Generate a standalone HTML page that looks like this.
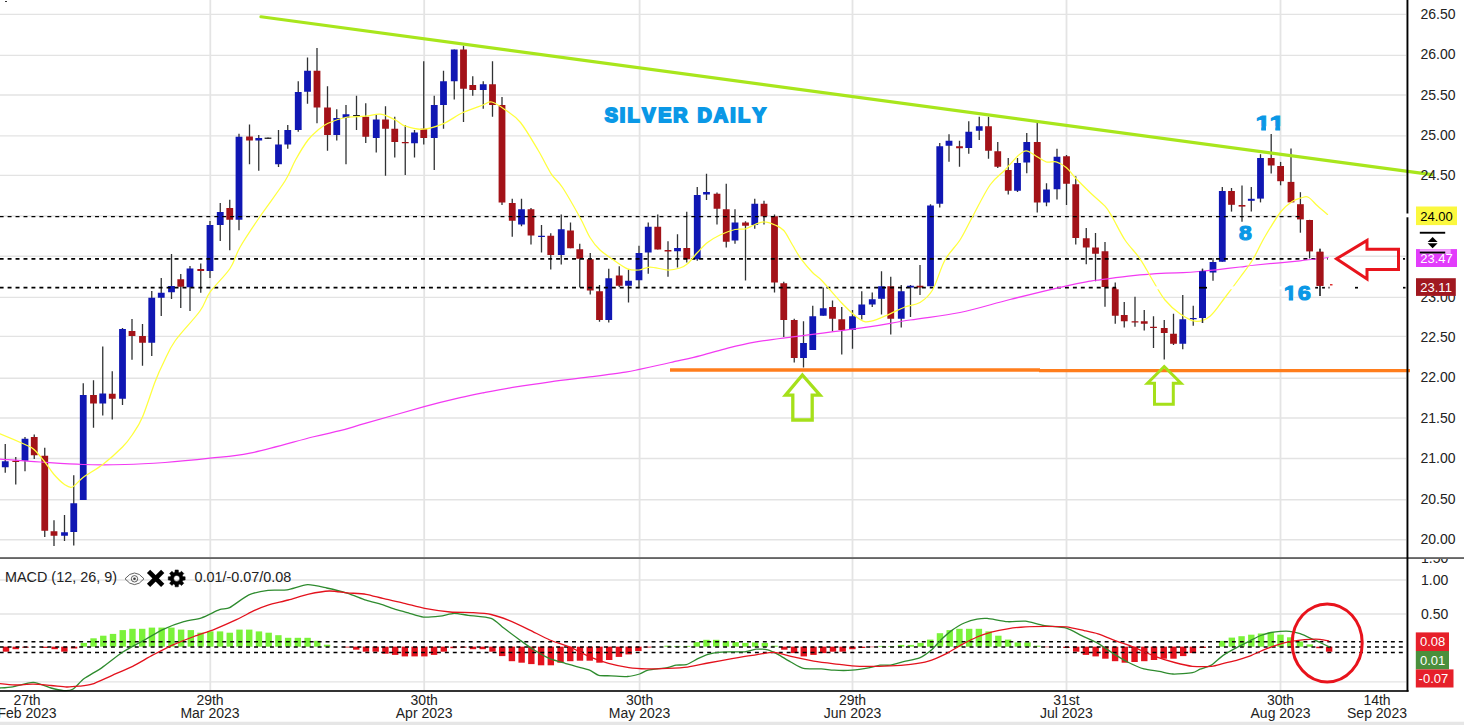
<!DOCTYPE html><html><head><meta charset="utf-8"><title>Silver Daily</title><style>html,body{margin:0;padding:0;background:#fff;overflow:hidden}svg{display:block}text{font-family:"Liberation Sans", Arial, sans-serif}</style></head><body>
<svg width="1464" height="725" viewBox="0 0 1464 725">
<rect x="0" y="0" width="1464" height="725" fill="#fff"/>
<g stroke="#e3e3e3" stroke-width="1.35" fill="none">
<line x1="0" y1="14.4" x2="1406" y2="14.4"/>
<line x1="0" y1="55.4" x2="1406" y2="55.4"/>
<line x1="0" y1="95.0" x2="1406" y2="95.0"/>
<line x1="0" y1="135.9" x2="1406" y2="135.9"/>
<line x1="0" y1="175.3" x2="1406" y2="175.3"/>
<line x1="0" y1="216.0" x2="1302" y2="216.0"/>
<line x1="0" y1="256.3" x2="1406" y2="256.3"/>
<line x1="0" y1="297.3" x2="1406" y2="297.3"/>
<line x1="0" y1="336.4" x2="1406" y2="336.4"/>
<line x1="0" y1="378.2" x2="1406" y2="378.2"/>
<line x1="0" y1="418.0" x2="1406" y2="418.0"/>
<line x1="0" y1="458.5" x2="1406" y2="458.5"/>
<line x1="0" y1="499.7" x2="1406" y2="499.7"/>
<line x1="0" y1="539.7" x2="1406" y2="539.7"/>
<line x1="0" y1="580.0" x2="1406" y2="580.0"/>
<line x1="0" y1="614.0" x2="1406" y2="614.0"/>
<line x1="0" y1="681.8" x2="1406" y2="681.8"/>
</g><g stroke="#e4e4e4" stroke-width="1.8" fill="none">
<line x1="210.3" y1="0" x2="210.3" y2="557"/>
<line x1="210.3" y1="559" x2="210.3" y2="690"/>
<line x1="424.2" y1="0" x2="424.2" y2="557"/>
<line x1="424.2" y1="559" x2="424.2" y2="690"/>
<line x1="639.6" y1="0" x2="639.6" y2="557"/>
<line x1="639.6" y1="559" x2="639.6" y2="690"/>
<line x1="852.5" y1="0" x2="852.5" y2="557"/>
<line x1="852.5" y1="559" x2="852.5" y2="690"/>
<line x1="1066.5" y1="0" x2="1066.5" y2="557"/>
<line x1="1066.5" y1="559" x2="1066.5" y2="690"/>
<line x1="1280.5" y1="0" x2="1280.5" y2="557"/>
<line x1="1280.5" y1="559" x2="1280.5" y2="690"/>
</g>
<g>
<line x1="5.25" y1="444" x2="5.25" y2="472.75" stroke="#303234" stroke-width="1.3"/>
<rect x="1.85" y="461.25" width="6.8" height="6.00" fill="#1017b3"/>
<line x1="15.75" y1="457" x2="15.75" y2="484.5" stroke="#303234" stroke-width="1.3"/>
<rect x="12.35" y="460.75" width="6.8" height="1.25" fill="#a31218"/>
<line x1="25" y1="437" x2="25" y2="471.25" stroke="#303234" stroke-width="1.3"/>
<rect x="21.60" y="438.75" width="6.8" height="22.00" fill="#1017b3"/>
<line x1="34.25" y1="434.5" x2="34.25" y2="459" stroke="#303234" stroke-width="1.3"/>
<rect x="30.85" y="437" width="6.8" height="18.25" fill="#a31218"/>
<line x1="44.75" y1="447.75" x2="44.75" y2="537" stroke="#303234" stroke-width="1.3"/>
<rect x="41.35" y="455.75" width="6.8" height="75.00" fill="#a31218"/>
<line x1="54" y1="520.25" x2="54" y2="546" stroke="#303234" stroke-width="1.3"/>
<rect x="50.60" y="531.25" width="6.8" height="4.50" fill="#a31218"/>
<line x1="64.5" y1="515" x2="64.5" y2="541" stroke="#303234" stroke-width="1.3"/>
<rect x="61.10" y="532.25" width="6.8" height="3.50" fill="#1017b3"/>
<line x1="73.75" y1="475.25" x2="73.75" y2="545.5" stroke="#303234" stroke-width="1.3"/>
<rect x="70.35" y="503.25" width="6.8" height="28.75" fill="#1017b3"/>
<line x1="83.25" y1="383.25" x2="83.25" y2="500" stroke="#303234" stroke-width="1.3"/>
<rect x="79.85" y="395" width="6.8" height="105.00" fill="#1017b3"/>
<line x1="93.5" y1="380.25" x2="93.5" y2="427.75" stroke="#303234" stroke-width="1.3"/>
<rect x="90.10" y="395" width="6.8" height="8.50" fill="#a31218"/>
<line x1="102.75" y1="346.5" x2="102.75" y2="415.5" stroke="#303234" stroke-width="1.3"/>
<rect x="99.35" y="393.5" width="6.8" height="10.00" fill="#1017b3"/>
<line x1="112.25" y1="371.25" x2="112.25" y2="419.5" stroke="#303234" stroke-width="1.3"/>
<rect x="108.85" y="393.75" width="6.8" height="5.00" fill="#a31218"/>
<line x1="122.5" y1="328" x2="122.5" y2="405" stroke="#303234" stroke-width="1.3"/>
<rect x="119.10" y="329" width="6.8" height="69.75" fill="#1017b3"/>
<line x1="132" y1="319" x2="132" y2="359.75" stroke="#303234" stroke-width="1.3"/>
<rect x="128.60" y="331" width="6.8" height="5.00" fill="#a31218"/>
<line x1="142.5" y1="324" x2="142.5" y2="365.75" stroke="#303234" stroke-width="1.3"/>
<rect x="139.10" y="336" width="6.8" height="6.75" fill="#a31218"/>
<line x1="151.75" y1="291" x2="151.75" y2="356" stroke="#303234" stroke-width="1.3"/>
<rect x="148.35" y="297.75" width="6.8" height="45.00" fill="#1017b3"/>
<line x1="161.25" y1="278" x2="161.25" y2="316" stroke="#303234" stroke-width="1.3"/>
<rect x="157.85" y="292.75" width="6.8" height="5.00" fill="#1017b3"/>
<line x1="171.5" y1="254" x2="171.5" y2="299" stroke="#303234" stroke-width="1.3"/>
<rect x="168.10" y="286" width="6.8" height="6.25" fill="#1017b3"/>
<line x1="180.75" y1="274" x2="180.75" y2="308" stroke="#303234" stroke-width="1.3"/>
<rect x="177.35" y="279.25" width="6.8" height="7.50" fill="#a31218"/>
<line x1="190" y1="266" x2="190" y2="311" stroke="#303234" stroke-width="1.3"/>
<rect x="186.60" y="268.5" width="6.8" height="18.75" fill="#1017b3"/>
<line x1="200.75" y1="263.5" x2="200.75" y2="292.75" stroke="#303234" stroke-width="1.3"/>
<rect x="197.35" y="269" width="6.8" height="2.00" fill="#a31218"/>
<line x1="210" y1="221" x2="210" y2="278" stroke="#303234" stroke-width="1.3"/>
<rect x="206.60" y="225" width="6.8" height="46.00" fill="#1017b3"/>
<line x1="220.25" y1="203" x2="220.25" y2="241" stroke="#303234" stroke-width="1.3"/>
<rect x="216.85" y="212" width="6.8" height="13.00" fill="#1017b3"/>
<line x1="229.75" y1="199.75" x2="229.75" y2="250.25" stroke="#303234" stroke-width="1.3"/>
<rect x="226.35" y="208" width="6.8" height="11.75" fill="#a31218"/>
<line x1="239" y1="133.75" x2="239" y2="230.25" stroke="#303234" stroke-width="1.3"/>
<rect x="235.60" y="136.75" width="6.8" height="83.00" fill="#1017b3"/>
<line x1="249.5" y1="124.5" x2="249.5" y2="164.25" stroke="#303234" stroke-width="1.3"/>
<rect x="246.10" y="136.5" width="6.8" height="4.00" fill="#a31218"/>
<line x1="258.75" y1="135" x2="258.75" y2="170.75" stroke="#303234" stroke-width="1.3"/>
<rect x="255.35" y="138" width="6.8" height="2.50" fill="#1017b3"/>
<line x1="268" y1="137.6" x2="268" y2="138.9" stroke="#303234" stroke-width="1.3"/>
<rect x="264.60" y="137.6" width="6.8" height="1.30" fill="#222"/>
<line x1="278.5" y1="130" x2="278.5" y2="167" stroke="#303234" stroke-width="1.3"/>
<rect x="275.10" y="144.5" width="6.8" height="19.75" fill="#1017b3"/>
<line x1="287.75" y1="125" x2="287.75" y2="148.75" stroke="#303234" stroke-width="1.3"/>
<rect x="284.35" y="130" width="6.8" height="14.50" fill="#1017b3"/>
<line x1="298.25" y1="81.25" x2="298.25" y2="131.75" stroke="#303234" stroke-width="1.3"/>
<rect x="294.85" y="92" width="6.8" height="38.00" fill="#1017b3"/>
<line x1="307.5" y1="57.5" x2="307.5" y2="103.75" stroke="#303234" stroke-width="1.3"/>
<rect x="304.10" y="70.75" width="6.8" height="21.00" fill="#1017b3"/>
<line x1="317" y1="48" x2="317" y2="123.25" stroke="#303234" stroke-width="1.3"/>
<rect x="313.60" y="70.75" width="6.8" height="36.75" fill="#a31218"/>
<line x1="327.5" y1="86.25" x2="327.5" y2="150.75" stroke="#303234" stroke-width="1.3"/>
<rect x="324.10" y="107.5" width="6.8" height="27.50" fill="#a31218"/>
<line x1="336.75" y1="109.25" x2="336.75" y2="140.5" stroke="#303234" stroke-width="1.3"/>
<rect x="333.35" y="118" width="6.8" height="17.00" fill="#1017b3"/>
<line x1="346" y1="105" x2="346" y2="164.25" stroke="#303234" stroke-width="1.3"/>
<rect x="342.60" y="114.25" width="6.8" height="3.75" fill="#1017b3"/>
<line x1="356.5" y1="95.75" x2="356.5" y2="130" stroke="#303234" stroke-width="1.3"/>
<rect x="353.10" y="115" width="6.8" height="1.20" fill="#222"/>
<line x1="365.75" y1="103.25" x2="365.75" y2="143" stroke="#303234" stroke-width="1.3"/>
<rect x="362.35" y="116.75" width="6.8" height="20.00" fill="#a31218"/>
<line x1="376.25" y1="115" x2="376.25" y2="152.5" stroke="#303234" stroke-width="1.3"/>
<rect x="372.85" y="119.5" width="6.8" height="18.50" fill="#1017b3"/>
<line x1="385.5" y1="106.25" x2="385.5" y2="175.75" stroke="#303234" stroke-width="1.3"/>
<rect x="382.10" y="119.5" width="6.8" height="9.25" fill="#a31218"/>
<line x1="394.75" y1="116.75" x2="394.75" y2="157.5" stroke="#303234" stroke-width="1.3"/>
<rect x="391.35" y="128.75" width="6.8" height="13.25" fill="#a31218"/>
<line x1="405.25" y1="125" x2="405.25" y2="175" stroke="#303234" stroke-width="1.3"/>
<rect x="401.85" y="142" width="6.8" height="1.25" fill="#a31218"/>
<line x1="414.5" y1="130" x2="414.5" y2="157.5" stroke="#303234" stroke-width="1.3"/>
<rect x="411.10" y="132.5" width="6.8" height="10.75" fill="#1017b3"/>
<line x1="423.75" y1="61.25" x2="423.75" y2="144.5" stroke="#303234" stroke-width="1.3"/>
<rect x="420.35" y="128.75" width="6.8" height="9.25" fill="#a31218"/>
<line x1="434.25" y1="95.75" x2="434.25" y2="170" stroke="#303234" stroke-width="1.3"/>
<rect x="430.85" y="105" width="6.8" height="33.00" fill="#1017b3"/>
<line x1="443.5" y1="70.75" x2="443.5" y2="128.75" stroke="#303234" stroke-width="1.3"/>
<rect x="440.10" y="81.25" width="6.8" height="23.75" fill="#1017b3"/>
<line x1="454.25" y1="49.5" x2="454.25" y2="99.5" stroke="#303234" stroke-width="1.3"/>
<rect x="450.85" y="49.5" width="6.8" height="31.75" fill="#1017b3"/>
<line x1="463.5" y1="45.75" x2="463.5" y2="122" stroke="#303234" stroke-width="1.3"/>
<rect x="460.10" y="49.5" width="6.8" height="39.25" fill="#a31218"/>
<line x1="472.75" y1="76.25" x2="472.75" y2="95.75" stroke="#303234" stroke-width="1.3"/>
<rect x="469.35" y="85" width="6.8" height="5.00" fill="#a31218"/>
<line x1="483.25" y1="81.25" x2="483.25" y2="108.75" stroke="#303234" stroke-width="1.3"/>
<rect x="479.85" y="84.25" width="6.8" height="5.75" fill="#1017b3"/>
<line x1="492.5" y1="61.25" x2="492.5" y2="116.75" stroke="#303234" stroke-width="1.3"/>
<rect x="489.10" y="84.25" width="6.8" height="20.75" fill="#a31218"/>
<line x1="502" y1="97" x2="502" y2="205" stroke="#303234" stroke-width="1.3"/>
<rect x="498.60" y="105" width="6.8" height="97.50" fill="#a31218"/>
<line x1="512.25" y1="198.75" x2="512.25" y2="236.75" stroke="#303234" stroke-width="1.3"/>
<rect x="508.85" y="203" width="6.8" height="17.75" fill="#a31218"/>
<line x1="521.5" y1="198.75" x2="521.5" y2="226.25" stroke="#303234" stroke-width="1.3"/>
<rect x="518.10" y="209.25" width="6.8" height="15.25" fill="#1017b3"/>
<line x1="531" y1="208" x2="531" y2="244.5" stroke="#303234" stroke-width="1.3"/>
<rect x="527.60" y="209.25" width="6.8" height="26.25" fill="#a31218"/>
<line x1="541.5" y1="225" x2="541.5" y2="252.5" stroke="#303234" stroke-width="1.3"/>
<rect x="538.10" y="235.75" width="6.8" height="1.25" fill="#1017b3"/>
<line x1="550.75" y1="233.25" x2="550.75" y2="269.5" stroke="#303234" stroke-width="1.3"/>
<rect x="547.35" y="235.75" width="6.8" height="19.25" fill="#a31218"/>
<line x1="561.25" y1="214.5" x2="561.25" y2="264.5" stroke="#303234" stroke-width="1.3"/>
<rect x="557.85" y="229.25" width="6.8" height="25.75" fill="#1017b3"/>
<line x1="570.5" y1="222.5" x2="570.5" y2="248.25" stroke="#303234" stroke-width="1.3"/>
<rect x="567.10" y="230.5" width="6.8" height="17.75" fill="#a31218"/>
<line x1="579.75" y1="243.75" x2="579.75" y2="287.5" stroke="#303234" stroke-width="1.3"/>
<rect x="576.35" y="249.25" width="6.8" height="9.50" fill="#a31218"/>
<line x1="590.25" y1="253" x2="590.25" y2="294.5" stroke="#303234" stroke-width="1.3"/>
<rect x="586.85" y="259.25" width="6.8" height="31.25" fill="#a31218"/>
<line x1="599.5" y1="285" x2="599.5" y2="321.75" stroke="#303234" stroke-width="1.3"/>
<rect x="596.10" y="291.25" width="6.8" height="28.75" fill="#a31218"/>
<line x1="608.75" y1="268.75" x2="608.75" y2="322.5" stroke="#303234" stroke-width="1.3"/>
<rect x="605.35" y="278.25" width="6.8" height="41.75" fill="#1017b3"/>
<line x1="619.25" y1="266.25" x2="619.25" y2="287" stroke="#303234" stroke-width="1.3"/>
<rect x="615.85" y="275.5" width="6.8" height="10.25" fill="#a31218"/>
<line x1="628.5" y1="269.5" x2="628.5" y2="302.5" stroke="#303234" stroke-width="1.3"/>
<rect x="625.10" y="280.75" width="6.8" height="5.00" fill="#1017b3"/>
<line x1="639" y1="245.75" x2="639" y2="288.25" stroke="#303234" stroke-width="1.3"/>
<rect x="635.60" y="253" width="6.8" height="27.25" fill="#1017b3"/>
<line x1="648.25" y1="222.5" x2="648.25" y2="273.75" stroke="#303234" stroke-width="1.3"/>
<rect x="644.85" y="226.75" width="6.8" height="25.75" fill="#1017b3"/>
<line x1="657.75" y1="214.5" x2="657.75" y2="249.5" stroke="#303234" stroke-width="1.3"/>
<rect x="654.35" y="226.75" width="6.8" height="22.75" fill="#a31218"/>
<line x1="668" y1="241.25" x2="668" y2="276.75" stroke="#303234" stroke-width="1.3"/>
<rect x="664.60" y="250" width="6.8" height="1.50" fill="#a31218"/>
<line x1="677.5" y1="234.25" x2="677.5" y2="267.5" stroke="#303234" stroke-width="1.3"/>
<rect x="674.10" y="248" width="6.8" height="3.25" fill="#1017b3"/>
<line x1="686.75" y1="211.75" x2="686.75" y2="262.5" stroke="#303234" stroke-width="1.3"/>
<rect x="683.35" y="248" width="6.8" height="11.25" fill="#a31218"/>
<line x1="697.25" y1="187" x2="697.25" y2="260.75" stroke="#303234" stroke-width="1.3"/>
<rect x="693.85" y="195" width="6.8" height="64.25" fill="#1017b3"/>
<line x1="706.5" y1="173.75" x2="706.5" y2="200" stroke="#303234" stroke-width="1.3"/>
<rect x="703.10" y="192" width="6.8" height="2.50" fill="#1017b3"/>
<line x1="717" y1="192.5" x2="717" y2="224.5" stroke="#303234" stroke-width="1.3"/>
<rect x="713.60" y="193.75" width="6.8" height="15.00" fill="#a31218"/>
<line x1="726.25" y1="183.75" x2="726.25" y2="247.5" stroke="#303234" stroke-width="1.3"/>
<rect x="722.85" y="209.25" width="6.8" height="32.50" fill="#a31218"/>
<line x1="735" y1="209.25" x2="735" y2="243.75" stroke="#303234" stroke-width="1.3"/>
<rect x="731.60" y="222.5" width="6.8" height="18.00" fill="#1017b3"/>
<line x1="745.5" y1="221.25" x2="745.5" y2="280.5" stroke="#303234" stroke-width="1.3"/>
<rect x="742.10" y="222.5" width="6.8" height="3.25" fill="#a31218"/>
<line x1="754.75" y1="198.75" x2="754.75" y2="228.75" stroke="#303234" stroke-width="1.3"/>
<rect x="751.35" y="203.75" width="6.8" height="21.25" fill="#1017b3"/>
<line x1="764" y1="200.75" x2="764" y2="224.5" stroke="#303234" stroke-width="1.3"/>
<rect x="760.60" y="203.75" width="6.8" height="12.50" fill="#a31218"/>
<line x1="774.5" y1="214.5" x2="774.5" y2="292.5" stroke="#303234" stroke-width="1.3"/>
<rect x="771.10" y="216.25" width="6.8" height="66.25" fill="#a31218"/>
<line x1="783.75" y1="281.75" x2="783.75" y2="337" stroke="#303234" stroke-width="1.3"/>
<rect x="780.35" y="283.25" width="6.8" height="36.75" fill="#a31218"/>
<line x1="794.25" y1="318.75" x2="794.25" y2="362.5" stroke="#303234" stroke-width="1.3"/>
<rect x="790.85" y="320" width="6.8" height="38.00" fill="#a31218"/>
<line x1="803.5" y1="321.25" x2="803.5" y2="367.5" stroke="#303234" stroke-width="1.3"/>
<rect x="800.10" y="343" width="6.8" height="15.00" fill="#1017b3"/>
<line x1="812.75" y1="305.75" x2="812.75" y2="350" stroke="#303234" stroke-width="1.3"/>
<rect x="809.35" y="316.25" width="6.8" height="33.75" fill="#1017b3"/>
<line x1="823.25" y1="287.5" x2="823.25" y2="315.75" stroke="#303234" stroke-width="1.3"/>
<rect x="819.85" y="308.25" width="6.8" height="7.50" fill="#1017b3"/>
<line x1="832.5" y1="300.5" x2="832.5" y2="331.25" stroke="#303234" stroke-width="1.3"/>
<rect x="829.10" y="307" width="6.8" height="11.75" fill="#a31218"/>
<line x1="841.75" y1="307" x2="841.75" y2="354.5" stroke="#303234" stroke-width="1.3"/>
<rect x="838.35" y="319.25" width="6.8" height="10.75" fill="#a31218"/>
<line x1="852.5" y1="310" x2="852.5" y2="348.75" stroke="#303234" stroke-width="1.3"/>
<rect x="849.10" y="316.25" width="6.8" height="13.75" fill="#1017b3"/>
<line x1="861.75" y1="291.25" x2="861.75" y2="319.5" stroke="#303234" stroke-width="1.3"/>
<rect x="858.35" y="304.5" width="6.8" height="10.50" fill="#1017b3"/>
<line x1="872.25" y1="292.5" x2="872.25" y2="307" stroke="#303234" stroke-width="1.3"/>
<rect x="868.85" y="299.25" width="6.8" height="5.25" fill="#1017b3"/>
<line x1="881.5" y1="271.25" x2="881.5" y2="314.5" stroke="#303234" stroke-width="1.3"/>
<rect x="878.10" y="286.25" width="6.8" height="12.50" fill="#1017b3"/>
<line x1="890.75" y1="276.75" x2="890.75" y2="334.5" stroke="#303234" stroke-width="1.3"/>
<rect x="887.35" y="286.25" width="6.8" height="32.50" fill="#a31218"/>
<line x1="901.25" y1="285" x2="901.25" y2="327.5" stroke="#303234" stroke-width="1.3"/>
<rect x="897.85" y="291.25" width="6.8" height="27.50" fill="#1017b3"/>
<line x1="910.5" y1="285" x2="910.5" y2="317" stroke="#303234" stroke-width="1.3"/>
<rect x="907.10" y="285.75" width="6.8" height="1.75" fill="#1017b3"/>
<line x1="920" y1="265" x2="920" y2="295" stroke="#303234" stroke-width="1.3"/>
<rect x="916.60" y="285.75" width="6.8" height="1.75" fill="#a31218"/>
<line x1="930.5" y1="204.25" x2="930.5" y2="286.25" stroke="#303234" stroke-width="1.3"/>
<rect x="927.10" y="205.5" width="6.8" height="80.75" fill="#1017b3"/>
<line x1="939.75" y1="143" x2="939.75" y2="207.5" stroke="#303234" stroke-width="1.3"/>
<rect x="936.35" y="146.25" width="6.8" height="57.50" fill="#1017b3"/>
<line x1="949" y1="134.25" x2="949" y2="161.75" stroke="#303234" stroke-width="1.3"/>
<rect x="945.60" y="140.75" width="6.8" height="5.00" fill="#1017b3"/>
<line x1="959.5" y1="140.75" x2="959.5" y2="166.75" stroke="#303234" stroke-width="1.3"/>
<rect x="956.10" y="146.25" width="6.8" height="2.00" fill="#a31218"/>
<line x1="968.75" y1="121.25" x2="968.75" y2="153.75" stroke="#303234" stroke-width="1.3"/>
<rect x="965.35" y="131.75" width="6.8" height="16.25" fill="#1017b3"/>
<line x1="979.25" y1="116.75" x2="979.25" y2="140" stroke="#303234" stroke-width="1.3"/>
<rect x="975.85" y="126.25" width="6.8" height="4.50" fill="#1017b3"/>
<line x1="988.5" y1="116.75" x2="988.5" y2="158.75" stroke="#303234" stroke-width="1.3"/>
<rect x="985.10" y="126.25" width="6.8" height="24.50" fill="#a31218"/>
<line x1="997.75" y1="142" x2="997.75" y2="168" stroke="#303234" stroke-width="1.3"/>
<rect x="994.35" y="151.25" width="6.8" height="15.50" fill="#a31218"/>
<line x1="1008.25" y1="158" x2="1008.25" y2="194.5" stroke="#303234" stroke-width="1.3"/>
<rect x="1004.85" y="170" width="6.8" height="20.75" fill="#a31218"/>
<line x1="1017.5" y1="158" x2="1017.5" y2="192" stroke="#303234" stroke-width="1.3"/>
<rect x="1014.10" y="163" width="6.8" height="27.75" fill="#1017b3"/>
<line x1="1026.75" y1="133" x2="1026.75" y2="173.25" stroke="#303234" stroke-width="1.3"/>
<rect x="1023.35" y="142" width="6.8" height="20.50" fill="#1017b3"/>
<line x1="1037.25" y1="122.5" x2="1037.25" y2="212.5" stroke="#303234" stroke-width="1.3"/>
<rect x="1033.85" y="142" width="6.8" height="60.50" fill="#a31218"/>
<line x1="1046.5" y1="183.25" x2="1046.5" y2="206.25" stroke="#303234" stroke-width="1.3"/>
<rect x="1043.10" y="189.5" width="6.8" height="13.00" fill="#1017b3"/>
<line x1="1057" y1="148.75" x2="1057" y2="199.5" stroke="#303234" stroke-width="1.3"/>
<rect x="1053.60" y="156.75" width="6.8" height="32.50" fill="#1017b3"/>
<line x1="1066.5" y1="155" x2="1066.5" y2="205" stroke="#303234" stroke-width="1.3"/>
<rect x="1063.10" y="156.25" width="6.8" height="27.50" fill="#a31218"/>
<line x1="1075.75" y1="176.25" x2="1075.75" y2="244.5" stroke="#303234" stroke-width="1.3"/>
<rect x="1072.35" y="184.25" width="6.8" height="53.75" fill="#a31218"/>
<line x1="1086.25" y1="228" x2="1086.25" y2="264.25" stroke="#303234" stroke-width="1.3"/>
<rect x="1082.85" y="238.25" width="6.8" height="9.25" fill="#a31218"/>
<line x1="1095.5" y1="233" x2="1095.5" y2="281.25" stroke="#303234" stroke-width="1.3"/>
<rect x="1092.10" y="247.5" width="6.8" height="6.25" fill="#a31218"/>
<line x1="1105" y1="242" x2="1105" y2="306.75" stroke="#303234" stroke-width="1.3"/>
<rect x="1101.60" y="251.25" width="6.8" height="35.75" fill="#a31218"/>
<line x1="1115.25" y1="282.5" x2="1115.25" y2="323.75" stroke="#303234" stroke-width="1.3"/>
<rect x="1111.85" y="287.5" width="6.8" height="28.25" fill="#a31218"/>
<line x1="1124.25" y1="302" x2="1124.25" y2="327.5" stroke="#303234" stroke-width="1.3"/>
<rect x="1120.85" y="315" width="6.8" height="6.25" fill="#a31218"/>
<line x1="1135" y1="296.75" x2="1135" y2="326.75" stroke="#303234" stroke-width="1.3"/>
<rect x="1131.60" y="321.25" width="6.8" height="1.25" fill="#a31218"/>
<line x1="1144.25" y1="310" x2="1144.25" y2="330.5" stroke="#303234" stroke-width="1.3"/>
<rect x="1140.85" y="321.25" width="6.8" height="2.50" fill="#a31218"/>
<line x1="1153.5" y1="316.25" x2="1153.5" y2="348" stroke="#303234" stroke-width="1.3"/>
<rect x="1150.10" y="326.75" width="6.8" height="1.25" fill="#a31218"/>
<line x1="1164.25" y1="320" x2="1164.25" y2="359.5" stroke="#303234" stroke-width="1.3"/>
<rect x="1160.85" y="328" width="6.8" height="5.00" fill="#a31218"/>
<line x1="1173.5" y1="313.75" x2="1173.5" y2="345" stroke="#303234" stroke-width="1.3"/>
<rect x="1170.10" y="333.75" width="6.8" height="10.00" fill="#a31218"/>
<line x1="1182.75" y1="295" x2="1182.75" y2="349.25" stroke="#303234" stroke-width="1.3"/>
<rect x="1179.35" y="319.25" width="6.8" height="24.50" fill="#1017b3"/>
<line x1="1193.25" y1="305.75" x2="1193.25" y2="325.75" stroke="#303234" stroke-width="1.3"/>
<rect x="1189.85" y="318" width="6.8" height="1.25" fill="#1017b3"/>
<line x1="1202.5" y1="268.75" x2="1202.5" y2="323" stroke="#303234" stroke-width="1.3"/>
<rect x="1199.10" y="271.25" width="6.8" height="46.75" fill="#1017b3"/>
<line x1="1213" y1="258" x2="1213" y2="280.75" stroke="#303234" stroke-width="1.3"/>
<rect x="1209.60" y="262" width="6.8" height="10.50" fill="#1017b3"/>
<line x1="1222.3" y1="187" x2="1222.3" y2="261.75" stroke="#303234" stroke-width="1.3"/>
<rect x="1218.90" y="191" width="6.8" height="70.75" fill="#1017b3"/>
<line x1="1231.5" y1="188" x2="1231.5" y2="211.6" stroke="#303234" stroke-width="1.3"/>
<rect x="1228.10" y="191" width="6.8" height="13.80" fill="#a31218"/>
<line x1="1242" y1="185.6" x2="1242" y2="221.7" stroke="#303234" stroke-width="1.3"/>
<rect x="1238.60" y="205" width="6.8" height="1.60" fill="#a31218"/>
<line x1="1251.3" y1="187" x2="1251.3" y2="211.6" stroke="#303234" stroke-width="1.3"/>
<rect x="1247.90" y="198.8" width="6.8" height="2.00" fill="#1017b3"/>
<line x1="1260.5" y1="154.2" x2="1260.5" y2="202.4" stroke="#303234" stroke-width="1.3"/>
<rect x="1257.10" y="158" width="6.8" height="40.60" fill="#1017b3"/>
<line x1="1271.2" y1="134.1" x2="1271.2" y2="173.5" stroke="#303234" stroke-width="1.3"/>
<rect x="1267.80" y="158" width="6.8" height="7.50" fill="#a31218"/>
<line x1="1280.6" y1="161.9" x2="1280.6" y2="185.3" stroke="#303234" stroke-width="1.3"/>
<rect x="1277.20" y="166" width="6.8" height="15.20" fill="#a31218"/>
<line x1="1291" y1="148.5" x2="1291" y2="202.4" stroke="#303234" stroke-width="1.3"/>
<rect x="1287.60" y="181.9" width="6.8" height="20.50" fill="#a31218"/>
<line x1="1300.4" y1="192.2" x2="1300.4" y2="232.7" stroke="#303234" stroke-width="1.3"/>
<rect x="1297.00" y="204.2" width="6.8" height="15.20" fill="#a31218"/>
<line x1="1309.6" y1="219.8" x2="1309.6" y2="258.5" stroke="#303234" stroke-width="1.3"/>
<rect x="1306.20" y="220" width="6.8" height="31.40" fill="#a31218"/>
<line x1="1320" y1="248.8" x2="1320" y2="296" stroke="#303234" stroke-width="1.3"/>
<rect x="1316.60" y="251.8" width="6.8" height="34.00" fill="#a31218"/>
</g>
<g stroke="#000" stroke-width="1.7" stroke-dasharray="3.95 4" stroke-dashoffset="0.35" fill="none">
<line x1="0" y1="216.6" x2="1302" y2="216.6" stroke-width="1.15"/>
<line x1="0" y1="258.9" x2="1328" y2="258.9"/>
<line x1="0" y1="287.7" x2="1116" y2="287.7"/>
</g>
<path d="M0.0 459.0 C6.7 459.5 26.2 461.1 40.0 462.0 C53.8 462.9 68.8 464.1 83.0 464.5 C97.2 464.9 111.3 464.8 125.0 464.5 C138.7 464.2 150.8 463.5 165.0 462.5 C179.2 461.5 195.8 459.8 210.0 458.2 C224.2 456.7 232.9 456.8 250.0 453.2 C267.1 449.7 297.5 440.8 312.5 437.0 C327.5 433.2 331.1 433.0 340.0 430.7 C348.9 428.4 352.0 427.2 366.0 423.2 C380.0 419.2 408.5 411.0 424.2 406.7 C439.9 402.4 450.2 400.0 460.2 397.7 C470.2 395.4 475.3 394.4 484.3 392.6 C493.3 390.9 503.3 389.0 514.3 387.2 C525.3 385.4 537.4 383.6 550.4 381.8 C563.4 380.0 580.0 378.2 592.5 376.6 C605.0 375.0 617.5 373.4 625.5 372.1 C633.5 370.9 633.1 370.7 640.6 369.1 C648.1 367.5 660.6 364.8 670.6 362.5 C680.6 360.2 691.2 358.0 700.7 355.6 C710.2 353.2 718.7 350.4 727.7 348.1 C736.7 345.9 746.1 343.7 754.8 342.1 C763.5 340.5 763.7 340.6 780.0 338.5 C796.3 336.4 830.8 332.3 852.5 329.2 C874.2 326.2 892.1 322.8 910.0 320.0 C927.9 317.2 943.3 315.9 960.0 312.5 C976.7 309.1 992.2 304.0 1010.0 299.5 C1027.8 295.0 1053.4 288.8 1066.8 285.8 C1080.1 282.7 1084.5 282.2 1090.0 281.2 C1095.5 280.3 1092.8 280.7 1100.0 279.8 C1107.2 278.9 1122.0 276.8 1133.0 275.7 C1144.0 274.6 1157.7 273.7 1166.0 273.2 C1174.3 272.7 1177.5 273.0 1183.0 272.7 C1188.5 272.4 1193.5 272.0 1199.0 271.5 C1204.5 271.0 1209.2 270.6 1216.0 269.9 C1222.8 269.1 1233.3 267.8 1240.0 267.0 C1246.7 266.2 1246.0 266.0 1256.0 265.0 C1266.0 264.0 1288.0 262.0 1300.0 260.8 C1312.0 259.5 1323.3 258.0 1328.0 257.5" fill="none" stroke="#f23af2" stroke-width="1.25" stroke-linejoin="round" stroke-linecap="round"/>
<path d="M0.0 433.8 C4.2 435.5 19.3 441.9 25.0 444.5 C30.7 447.1 30.7 446.6 34.0 449.5 C37.3 452.4 41.4 457.8 44.8 462.0 C48.1 466.2 50.7 470.8 54.0 474.5 C57.3 478.2 61.4 482.4 64.5 484.5 C67.6 486.6 69.4 488.2 72.5 487.0 C75.6 485.8 78.0 481.2 83.0 477.5 C88.0 473.8 96.2 469.6 102.8 464.5 C109.3 459.4 117.5 452.0 122.5 447.0 C127.5 442.0 129.2 439.5 132.5 434.5 C135.8 429.5 138.8 425.8 142.5 417.0 C146.2 408.2 151.5 391.2 155.0 382.0 C158.5 372.8 160.4 368.8 163.8 362.0 C167.1 355.2 169.0 349.5 175.0 341.0 C181.0 332.5 194.2 319.1 200.0 311.0 C205.8 302.9 205.0 299.3 210.0 292.2 C215.0 285.2 225.0 276.0 230.0 268.5 C235.0 261.0 235.0 255.9 240.0 247.2 C245.0 238.6 252.5 227.5 260.0 216.5 C267.5 205.5 279.1 190.4 285.0 181.0 C290.9 171.6 291.7 166.8 295.5 160.0 C299.3 153.2 304.2 145.0 308.0 140.0 C311.8 135.0 314.7 132.8 318.0 130.0 C321.3 127.2 323.4 125.3 328.0 123.2 C332.6 121.2 339.2 118.7 345.5 117.5 C351.8 116.3 359.7 116.8 365.5 116.2 C371.3 115.7 375.5 113.6 380.5 114.2 C385.5 114.9 391.3 118.0 395.5 120.0 C399.7 122.0 400.9 124.7 405.5 126.2 C410.1 127.8 416.8 129.7 423.0 129.2 C429.2 128.8 436.3 126.5 443.0 123.8 C449.7 121.0 456.3 115.6 463.0 112.5 C469.7 109.4 478.2 106.8 483.0 105.0 C487.8 103.2 488.0 101.2 491.8 102.0 C495.5 102.8 500.7 106.6 505.5 110.0 C510.3 113.4 515.1 115.8 520.5 122.5 C525.9 129.2 532.9 141.5 538.0 150.0 C543.1 158.5 547.2 167.5 551.2 173.8 C555.3 180.0 557.7 180.2 562.5 187.5 C567.3 194.8 575.4 209.2 580.0 217.5 C584.6 225.8 586.7 232.1 590.0 237.5 C593.3 242.9 596.2 246.4 600.0 250.0 C603.8 253.6 607.9 256.1 612.5 259.2 C617.1 262.4 623.1 267.0 627.5 268.8 C631.9 270.5 635.2 270.3 639.0 270.0 C642.8 269.7 645.2 267.0 650.0 267.0 C654.8 267.0 662.5 269.8 667.5 270.0 C672.5 270.2 676.7 269.0 680.0 268.0 C683.3 267.0 684.6 266.3 687.5 263.8 C690.4 261.2 694.2 256.0 697.5 252.5 C700.8 249.0 703.8 245.4 707.5 242.5 C711.2 239.6 715.4 237.2 720.0 235.0 C724.6 232.8 730.8 230.5 735.0 229.5 C739.2 228.5 742.2 229.6 745.5 228.8 C748.8 227.9 751.9 225.7 755.0 224.5 C758.1 223.3 760.7 221.7 764.0 221.8 C767.3 221.8 771.7 223.5 775.0 225.0 C778.3 226.5 780.8 227.2 783.8 230.5 C786.7 233.8 789.6 240.2 792.5 245.0 C795.4 249.8 797.9 254.7 801.2 259.2 C804.6 263.8 809.0 268.8 812.5 272.5 C816.0 276.2 817.5 276.0 822.5 281.2 C827.5 286.5 836.2 297.4 842.5 303.8 C848.8 310.1 855.2 316.6 860.0 319.5 C864.8 322.4 866.2 322.2 871.2 321.2 C876.2 320.3 884.4 316.1 890.0 313.8 C895.6 311.4 900.0 308.9 905.0 307.0 C910.0 305.1 915.4 305.3 920.0 302.5 C924.6 299.7 928.3 297.1 932.5 290.0 C936.7 282.9 940.4 268.3 945.0 260.0 C949.6 251.7 955.4 247.2 960.0 240.0 C964.6 232.8 967.5 225.9 972.5 216.8 C977.5 207.6 984.6 192.8 990.0 185.0 C995.4 177.2 1000.4 174.8 1005.0 170.0 C1009.6 165.2 1014.0 159.5 1017.5 156.2 C1021.0 153.0 1023.1 150.8 1026.2 150.8 C1029.4 150.8 1032.9 154.4 1036.2 156.2 C1039.6 158.1 1042.9 160.8 1046.2 161.8 C1049.6 162.7 1052.9 160.8 1056.2 161.8 C1059.6 162.7 1062.9 164.7 1066.2 167.5 C1069.6 170.3 1072.3 174.6 1076.2 178.8 C1080.2 182.9 1085.2 187.9 1090.0 192.5 C1094.8 197.1 1101.2 202.1 1105.0 206.2 C1108.8 210.4 1109.2 211.9 1112.5 217.5 C1115.8 223.1 1120.4 233.1 1125.0 240.0 C1129.6 246.9 1135.4 252.1 1140.0 258.8 C1144.6 265.4 1148.3 273.1 1152.5 280.0 C1156.7 286.9 1160.4 294.4 1165.0 300.0 C1169.6 305.6 1175.0 310.2 1180.0 313.8 C1185.0 317.3 1190.0 320.8 1195.0 321.2 C1200.0 321.7 1205.0 320.2 1210.0 316.2 C1215.0 312.3 1220.0 304.0 1225.0 297.5 C1230.0 291.0 1235.4 283.8 1240.0 277.5 C1244.6 271.2 1248.3 266.8 1252.5 260.0 C1256.7 253.2 1260.2 244.6 1265.0 236.5 C1269.8 228.4 1276.4 217.4 1281.0 211.5 C1285.6 205.6 1289.0 203.6 1292.4 201.3 C1295.8 199.0 1298.8 198.5 1301.5 197.8 C1304.2 197.1 1305.6 195.9 1308.3 197.2 C1311.0 198.5 1314.2 202.9 1317.4 205.8 C1320.6 208.7 1325.8 213.0 1327.5 214.4" fill="none" stroke="#ffff3c" stroke-width="1.25" stroke-linejoin="round" stroke-linecap="round"/>
<rect x="1116.5" y="286.4" width="82.3" height="2.9" fill="#fff"/>
<rect x="1207.2" y="286.4" width="107.8" height="2.9" fill="#fff"/>
<rect x="1325" y="286.4" width="77.8" height="2.9" fill="#fff"/>
<line x1="1202.5" y1="268.75" x2="1202.5" y2="323" stroke="#303234" stroke-width="1.3"/>
<rect x="1199.10" y="271.25" width="6.8" height="46.75" fill="#1017b3"/>
<line x1="1320" y1="248.8" x2="1320" y2="296" stroke="#303234" stroke-width="1.3"/>
<rect x="1316.60" y="251.8" width="6.8" height="34.00" fill="#a31218"/>
<g stroke="#000" stroke-width="1.7" fill="none">
<line x1="1199" y1="287.7" x2="1207" y2="287.7"/>
<line x1="1315.2" y1="287.7" x2="1318" y2="287.7"/>
<line x1="1322.1" y1="287.7" x2="1324.9" y2="287.7"/>
<line x1="1328.5" y1="287.7" x2="1329.5" y2="287.7"/>
<line x1="1355" y1="287.7" x2="1358" y2="287.7"/>
<line x1="1403" y1="287.7" x2="1405.5" y2="287.7"/>
<line x1="1403" y1="258.9" x2="1405" y2="258.9"/>
</g>
<rect x="1330" y="284" width="2.5" height="1.5" fill="#d33"/>
<line x1="261" y1="16.75" x2="1432" y2="174.6" stroke="#a8e61c" stroke-width="3.2" stroke-linecap="round"/>
<line x1="670" y1="370" x2="1040" y2="370" stroke="#ff7d1c" stroke-width="3.4"/>
<line x1="1039" y1="370.6" x2="1410" y2="370.6" stroke="#ff7d1c" stroke-width="3.2"/>
<polygon points="802.4,375 820,395.2 812.2,395.2 812.2,420 792.8,420 792.8,395.2 785.5,395.2" fill="none" stroke="#a5e01a" stroke-width="3.3" stroke-linejoin="miter"/>
<polygon points="1164.2,366.5 1181,383.2 1173.3,383.2 1173.3,404.2 1154.5,404.2 1154.5,383.2 1147.5,383.2" fill="none" stroke="#a5e01a" stroke-width="3" stroke-linejoin="miter"/>
<polygon points="1336.5,258.8 1367,240.5 1367,249.3 1398.5,249.3 1398.5,269.6 1367,269.6 1367,279 " fill="none" stroke="#e8141c" stroke-width="3" stroke-linejoin="miter"/>
<text transform="matrix(1.0357,0,0,1.0151,0,121.51)" x="583.87 598.46 605.96 620.22 635.60 650.13 665.83 673.53 689.15 705.00 712.65 726.71" y="0" font-size="19.0" font-weight="bold" fill="#0a98e6" stroke="#0a98e6" stroke-width="1.9" stroke-linejoin="miter">SILVER DAILY</text>
<clipPath id="c11"><path d="M-5 -30H40V-3.5H19.02V2H15.35V-3.5H8.13V2H4.46V-3.5H-5Z"/></clipPath>
<text transform="matrix(1.295,0,0,1,1255.47,129.67)" x="0 10.89" y="0" font-size="20.8" font-weight="bold" fill="#0a98e6" stroke="#0a98e6" stroke-width="0.86" stroke-linejoin="miter" clip-path="url(#c11)">11</text>
<text transform="matrix(1.1678,0,0,1.0467,1239.00,239.91)" x="0" y="0" font-size="19.6" font-weight="bold" fill="#0a98e6" stroke="#0a98e6" stroke-width="1.15">8</text>
<clipPath id="c16"><path d="M-5 -30H40V2H11.85V-3.5H8.0V2H4.36V-3.5H-5Z"/></clipPath>
<text transform="matrix(1.18,0,0,1.055,1283.69,300.45)" y="0" font-weight="bold" fill="#0a98e6" stroke="#0a98e6" stroke-linejoin="miter" clip-path="url(#c16)"><tspan x="0" font-size="19.9" stroke-width="0.86">1</tspan><tspan x="11.96" font-size="20" stroke-width="1.0">6</tspan></text>
<g>
<rect x="2.79" y="646.70" width="6.4" height="5.00" fill="#e3121d"/>
<rect x="12.52" y="646.70" width="6.4" height="2.50" fill="#e3121d"/>
<rect x="22.25" y="646.70" width="6.4" height="1.00" fill="#e3121d"/>
<rect x="41.71" y="646.70" width="6.4" height="1.20" fill="#e3121d"/>
<rect x="51.44" y="646.70" width="6.4" height="2.50" fill="#e3121d"/>
<rect x="61.17" y="646.70" width="6.4" height="5.00" fill="#e3121d"/>
<rect x="70.89" y="646.70" width="6.4" height="1.80" fill="#e3121d"/>
<rect x="80.62" y="642.90" width="6.4" height="3.80" fill="#7bf23a"/>
<rect x="90.35" y="638.30" width="6.4" height="8.40" fill="#7bf23a"/>
<rect x="100.08" y="635.70" width="6.4" height="11.00" fill="#7bf23a"/>
<rect x="109.81" y="633.90" width="6.4" height="12.80" fill="#7bf23a"/>
<rect x="119.54" y="630.10" width="6.4" height="16.60" fill="#7bf23a"/>
<rect x="129.27" y="628.80" width="6.4" height="17.90" fill="#7bf23a"/>
<rect x="139.00" y="628.80" width="6.4" height="17.90" fill="#7bf23a"/>
<rect x="148.73" y="627.60" width="6.4" height="19.10" fill="#7bf23a"/>
<rect x="158.46" y="627.60" width="6.4" height="19.10" fill="#7bf23a"/>
<rect x="168.18" y="627.60" width="6.4" height="19.10" fill="#7bf23a"/>
<rect x="177.91" y="629.60" width="6.4" height="17.10" fill="#7bf23a"/>
<rect x="187.64" y="630.10" width="6.4" height="16.60" fill="#7bf23a"/>
<rect x="197.37" y="632.70" width="6.4" height="14.00" fill="#7bf23a"/>
<rect x="207.10" y="631.40" width="6.4" height="15.30" fill="#7bf23a"/>
<rect x="216.83" y="631.40" width="6.4" height="15.30" fill="#7bf23a"/>
<rect x="226.56" y="632.70" width="6.4" height="14.00" fill="#7bf23a"/>
<rect x="236.29" y="629.60" width="6.4" height="17.10" fill="#7bf23a"/>
<rect x="246.02" y="629.60" width="6.4" height="17.10" fill="#7bf23a"/>
<rect x="255.75" y="631.40" width="6.4" height="15.30" fill="#7bf23a"/>
<rect x="265.47" y="632.70" width="6.4" height="14.00" fill="#7bf23a"/>
<rect x="275.20" y="635.20" width="6.4" height="11.50" fill="#7bf23a"/>
<rect x="284.93" y="637.80" width="6.4" height="8.90" fill="#7bf23a"/>
<rect x="294.66" y="637.80" width="6.4" height="8.90" fill="#7bf23a"/>
<rect x="304.39" y="637.80" width="6.4" height="8.90" fill="#7bf23a"/>
<rect x="314.12" y="640.80" width="6.4" height="5.90" fill="#7bf23a"/>
<rect x="323.85" y="644.70" width="6.4" height="2.00" fill="#7bf23a"/>
<rect x="343.31" y="646.70" width="6.4" height="0.80" fill="#e3121d"/>
<rect x="353.04" y="646.70" width="6.4" height="3.00" fill="#e3121d"/>
<rect x="362.76" y="646.70" width="6.4" height="5.00" fill="#e3121d"/>
<rect x="372.49" y="646.70" width="6.4" height="5.00" fill="#e3121d"/>
<rect x="382.22" y="646.70" width="6.4" height="7.00" fill="#e3121d"/>
<rect x="391.95" y="646.70" width="6.4" height="8.20" fill="#e3121d"/>
<rect x="401.68" y="646.70" width="6.4" height="9.70" fill="#e3121d"/>
<rect x="411.41" y="646.70" width="6.4" height="9.70" fill="#e3121d"/>
<rect x="421.14" y="646.70" width="6.4" height="9.70" fill="#e3121d"/>
<rect x="430.87" y="646.70" width="6.4" height="8.20" fill="#e3121d"/>
<rect x="440.60" y="646.70" width="6.4" height="5.00" fill="#e3121d"/>
<rect x="450.32" y="646.70" width="6.4" height="1.50" fill="#e3121d"/>
<rect x="460.05" y="646.70" width="6.4" height="1.00" fill="#e3121d"/>
<rect x="469.78" y="646.70" width="6.4" height="2.50" fill="#e3121d"/>
<rect x="479.51" y="646.70" width="6.4" height="2.50" fill="#e3121d"/>
<rect x="489.24" y="646.70" width="6.4" height="5.00" fill="#e3121d"/>
<rect x="498.97" y="646.70" width="6.4" height="9.40" fill="#e3121d"/>
<rect x="508.70" y="646.70" width="6.4" height="14.50" fill="#e3121d"/>
<rect x="518.43" y="646.70" width="6.4" height="16.00" fill="#e3121d"/>
<rect x="528.16" y="646.70" width="6.4" height="17.40" fill="#e3121d"/>
<rect x="537.89" y="646.70" width="6.4" height="18.60" fill="#e3121d"/>
<rect x="547.62" y="646.70" width="6.4" height="18.60" fill="#e3121d"/>
<rect x="557.34" y="646.70" width="6.4" height="16.00" fill="#e3121d"/>
<rect x="567.07" y="646.70" width="6.4" height="14.50" fill="#e3121d"/>
<rect x="576.80" y="646.70" width="6.4" height="14.00" fill="#e3121d"/>
<rect x="586.53" y="646.70" width="6.4" height="14.00" fill="#e3121d"/>
<rect x="596.26" y="646.70" width="6.4" height="16.00" fill="#e3121d"/>
<rect x="605.99" y="646.70" width="6.4" height="13.30" fill="#e3121d"/>
<rect x="615.72" y="646.70" width="6.4" height="10.20" fill="#e3121d"/>
<rect x="625.45" y="646.70" width="6.4" height="7.70" fill="#e3121d"/>
<rect x="635.18" y="646.70" width="6.4" height="4.30" fill="#e3121d"/>
<rect x="644.90" y="646.70" width="6.4" height="0.80" fill="#e3121d"/>
<rect x="664.36" y="645.70" width="6.4" height="1.00" fill="#7bf23a"/>
<rect x="674.09" y="645.90" width="6.4" height="0.80" fill="#7bf23a"/>
<rect x="683.82" y="645.90" width="6.4" height="0.80" fill="#7bf23a"/>
<rect x="693.55" y="642.10" width="6.4" height="4.60" fill="#7bf23a"/>
<rect x="703.28" y="639.80" width="6.4" height="6.90" fill="#7bf23a"/>
<rect x="713.01" y="639.80" width="6.4" height="6.90" fill="#7bf23a"/>
<rect x="722.74" y="641.10" width="6.4" height="5.60" fill="#7bf23a"/>
<rect x="732.47" y="642.10" width="6.4" height="4.60" fill="#7bf23a"/>
<rect x="742.19" y="642.90" width="6.4" height="3.80" fill="#7bf23a"/>
<rect x="751.92" y="642.40" width="6.4" height="4.30" fill="#7bf23a"/>
<rect x="761.65" y="642.90" width="6.4" height="3.80" fill="#7bf23a"/>
<rect x="771.38" y="645.70" width="6.4" height="1.00" fill="#7bf23a"/>
<rect x="781.11" y="646.70" width="6.4" height="3.00" fill="#e3121d"/>
<rect x="790.84" y="646.70" width="6.4" height="6.40" fill="#e3121d"/>
<rect x="800.57" y="646.70" width="6.4" height="9.70" fill="#e3121d"/>
<rect x="810.30" y="646.70" width="6.4" height="8.20" fill="#e3121d"/>
<rect x="820.03" y="646.70" width="6.4" height="6.40" fill="#e3121d"/>
<rect x="829.76" y="646.70" width="6.4" height="5.00" fill="#e3121d"/>
<rect x="839.48" y="646.70" width="6.4" height="5.00" fill="#e3121d"/>
<rect x="849.21" y="646.70" width="6.4" height="2.50" fill="#e3121d"/>
<rect x="858.94" y="646.70" width="6.4" height="1.30" fill="#e3121d"/>
<rect x="868.67" y="646.70" width="6.4" height="0.50" fill="#e3121d"/>
<rect x="878.40" y="645.90" width="6.4" height="0.80" fill="#7bf23a"/>
<rect x="888.13" y="646.10" width="6.4" height="0.60" fill="#7bf23a"/>
<rect x="897.86" y="644.90" width="6.4" height="1.80" fill="#7bf23a"/>
<rect x="907.59" y="644.90" width="6.4" height="1.80" fill="#7bf23a"/>
<rect x="917.32" y="642.90" width="6.4" height="3.80" fill="#7bf23a"/>
<rect x="927.05" y="639.60" width="6.4" height="7.10" fill="#7bf23a"/>
<rect x="936.77" y="633.20" width="6.4" height="13.50" fill="#7bf23a"/>
<rect x="946.50" y="630.10" width="6.4" height="16.60" fill="#7bf23a"/>
<rect x="956.23" y="628.80" width="6.4" height="17.90" fill="#7bf23a"/>
<rect x="965.96" y="628.80" width="6.4" height="17.90" fill="#7bf23a"/>
<rect x="975.69" y="628.80" width="6.4" height="17.90" fill="#7bf23a"/>
<rect x="985.42" y="631.40" width="6.4" height="15.30" fill="#7bf23a"/>
<rect x="995.15" y="635.70" width="6.4" height="11.00" fill="#7bf23a"/>
<rect x="1004.88" y="639.60" width="6.4" height="7.10" fill="#7bf23a"/>
<rect x="1014.61" y="642.40" width="6.4" height="4.30" fill="#7bf23a"/>
<rect x="1024.34" y="642.40" width="6.4" height="4.30" fill="#7bf23a"/>
<rect x="1034.06" y="645.70" width="6.4" height="1.00" fill="#7bf23a"/>
<rect x="1043.79" y="646.70" width="6.4" height="0.50" fill="#e3121d"/>
<rect x="1063.25" y="646.70" width="6.4" height="1.30" fill="#e3121d"/>
<rect x="1072.98" y="646.70" width="6.4" height="5.00" fill="#e3121d"/>
<rect x="1082.71" y="646.70" width="6.4" height="8.20" fill="#e3121d"/>
<rect x="1092.44" y="646.70" width="6.4" height="9.70" fill="#e3121d"/>
<rect x="1102.17" y="646.70" width="6.4" height="12.00" fill="#e3121d"/>
<rect x="1111.90" y="646.70" width="6.4" height="14.50" fill="#e3121d"/>
<rect x="1121.63" y="646.70" width="6.4" height="16.00" fill="#e3121d"/>
<rect x="1131.35" y="646.70" width="6.4" height="15.30" fill="#e3121d"/>
<rect x="1141.08" y="646.70" width="6.4" height="14.50" fill="#e3121d"/>
<rect x="1150.81" y="646.70" width="6.4" height="13.30" fill="#e3121d"/>
<rect x="1160.54" y="646.70" width="6.4" height="12.00" fill="#e3121d"/>
<rect x="1170.27" y="646.70" width="6.4" height="12.00" fill="#e3121d"/>
<rect x="1180.00" y="646.70" width="6.4" height="9.40" fill="#e3121d"/>
<rect x="1189.73" y="646.70" width="6.4" height="6.40" fill="#e3121d"/>
<rect x="1199.46" y="646.70" width="6.4" height="1.30" fill="#e3121d"/>
<rect x="1218.92" y="640.90" width="6.4" height="5.80" fill="#7bf23a"/>
<rect x="1228.64" y="637.60" width="6.4" height="9.10" fill="#7bf23a"/>
<rect x="1238.37" y="636.20" width="6.4" height="10.50" fill="#7bf23a"/>
<rect x="1248.10" y="634.70" width="6.4" height="12.00" fill="#7bf23a"/>
<rect x="1257.83" y="633.50" width="6.4" height="13.20" fill="#7bf23a"/>
<rect x="1267.56" y="632.40" width="6.4" height="14.30" fill="#7bf23a"/>
<rect x="1277.29" y="634.70" width="6.4" height="12.00" fill="#7bf23a"/>
<rect x="1287.02" y="637.30" width="6.4" height="9.40" fill="#7bf23a"/>
<rect x="1296.75" y="641.50" width="6.4" height="5.20" fill="#7bf23a"/>
<rect x="1306.48" y="644.40" width="6.4" height="2.30" fill="#7bf23a"/>
<rect x="1316.21" y="646.70" width="6.4" height="1.50" fill="#e3121d"/>
<rect x="1325.93" y="646.70" width="6.4" height="5.00" fill="#e3121d"/>
</g>
<g stroke="#000" stroke-width="1.45" stroke-dasharray="3.95 4" stroke-dashoffset="0.35" fill="none">
<line x1="0" y1="641.8" x2="1406" y2="641.8"/>
<line x1="0" y1="647.0" x2="1406" y2="647.0"/>
<line x1="0" y1="652.4" x2="1406" y2="652.4"/>
</g>
<path d="M0.0 688.0 C1.5 687.9 8.9 687.5 12.8 686.8 C16.7 686.1 28.7 682.3 33.2 682.4 C37.7 682.5 47.4 687.0 51.0 688.0 C54.6 689.0 61.3 690.4 63.8 690.6 C66.3 690.8 70.3 690.7 72.7 689.3 C75.1 687.9 80.8 681.1 84.2 678.6 C87.6 676.1 97.5 670.7 102.0 667.6 C106.5 664.5 117.7 655.4 122.5 652.3 C127.3 649.2 138.2 643.5 143.0 640.8 C147.8 638.1 158.5 631.5 163.3 629.3 C168.1 627.1 179.3 623.0 183.8 621.7 C188.3 620.4 197.4 619.2 201.6 617.8 C205.8 616.4 216.2 610.9 219.5 609.7 C222.8 608.5 226.3 609.3 229.7 607.6 C233.1 605.9 244.4 596.9 248.9 594.9 C253.4 592.9 263.5 590.9 268.0 590.3 C272.5 589.7 282.5 590.5 287.1 589.8 C291.7 589.1 303.0 584.9 307.6 584.7 C312.2 584.5 322.1 587.0 326.7 588.0 C331.3 589.0 342.5 591.7 347.1 593.1 C351.7 594.5 362.0 598.9 366.0 600.2 C370.0 601.5 378.0 603.3 381.3 604.3 C384.6 605.3 390.8 607.9 394.1 608.9 C397.4 609.9 406.0 612.3 409.4 613.3 C412.8 614.3 419.8 616.8 423.4 617.1 C427.0 617.4 436.4 616.5 440.0 616.1 C443.6 615.7 450.8 613.4 454.1 613.3 C457.4 613.2 463.8 614.7 468.1 615.3 C472.4 615.9 486.9 616.9 491.1 618.4 C495.3 619.9 500.5 625.6 503.8 628.1 C507.1 630.6 515.5 636.9 519.1 639.5 C522.7 642.1 530.9 648.1 534.5 650.3 C538.1 652.5 546.2 657.2 549.8 658.7 C553.4 660.2 561.5 662.3 565.1 663.3 C568.7 664.3 577.4 666.7 580.4 667.6 C583.4 668.5 588.5 669.8 590.6 670.7 C592.7 671.6 596.4 674.7 598.8 675.3 C601.2 675.9 607.6 675.7 611.0 675.8 C614.4 675.9 624.3 676.7 627.6 676.5 C630.9 676.3 637.2 674.7 639.6 674.0 C642.0 673.3 644.8 670.9 648.0 670.2 C651.2 669.5 663.9 668.2 667.2 667.6 C670.5 667.0 673.9 665.5 676.1 665.1 C678.3 664.8 683.8 665.3 686.3 664.6 C688.8 663.9 695.3 659.9 697.8 658.7 C700.3 657.5 705.6 655.0 708.0 654.3 C710.4 653.6 715.4 652.6 718.2 652.3 C721.0 652.0 728.9 651.9 732.0 651.8 C735.1 651.7 742.0 652.1 744.8 651.8 C747.6 651.5 753.5 649.4 756.2 649.2 C758.9 649.0 765.2 649.2 767.7 649.8 C770.2 650.4 775.2 652.9 777.9 654.3 C780.6 655.7 787.7 660.4 790.7 662.0 C793.7 663.6 799.9 667.6 803.5 668.4 C807.1 669.2 817.7 668.7 821.3 668.9 C824.9 669.1 830.5 670.0 834.1 670.2 C837.7 670.4 847.8 670.5 852.0 670.2 C856.2 669.9 866.5 668.2 869.8 667.6 C873.1 667.0 877.6 665.4 880.0 665.1 C882.4 664.8 887.2 665.6 890.2 665.1 C893.2 664.6 902.2 662.0 905.6 661.2 C909.0 660.4 916.6 659.2 919.6 657.9 C922.6 656.6 928.6 652.4 931.1 650.3 C933.6 648.2 938.9 641.8 941.3 639.5 C943.7 637.2 948.8 632.5 951.5 630.6 C954.2 628.7 961.3 624.3 964.3 623.0 C967.3 621.7 974.3 619.6 977.0 619.1 C979.7 618.6 983.6 618.1 987.2 618.4 C990.8 618.7 1003.1 621.4 1007.6 621.7 C1012.1 622.0 1021.3 620.8 1025.5 621.2 C1029.7 621.6 1038.6 624.7 1043.4 625.5 C1048.2 626.3 1061.9 626.9 1066.4 628.1 C1070.9 629.3 1078.0 633.9 1081.7 635.7 C1085.4 637.5 1094.3 641.3 1098.0 643.4 C1101.7 645.5 1109.7 651.4 1113.3 653.6 C1116.9 655.8 1125.0 660.7 1128.6 662.5 C1132.2 664.3 1140.3 667.9 1143.9 668.9 C1147.5 669.9 1155.9 670.8 1159.3 671.4 C1162.7 672.0 1168.9 673.8 1172.8 674.0 C1176.7 674.2 1189.2 673.3 1192.4 672.7 C1195.6 672.1 1197.8 670.1 1200.0 669.2 C1202.2 668.3 1208.7 666.7 1211.4 665.1 C1214.1 663.5 1219.7 657.7 1222.8 655.6 C1225.9 653.5 1234.8 648.6 1238.0 646.9 C1241.2 645.2 1247.4 642.1 1250.0 640.8 C1252.6 639.5 1258.2 636.5 1260.7 635.5 C1263.2 634.5 1268.7 633.0 1271.0 632.5 C1273.3 632.0 1278.2 631.4 1280.4 631.3 C1282.6 631.2 1287.2 631.0 1289.5 631.3 C1291.8 631.6 1297.9 632.9 1300.2 633.7 C1302.5 634.5 1307.3 636.8 1309.6 637.8 C1311.9 638.8 1317.6 641.3 1319.9 642.4 C1322.2 643.5 1328.2 646.4 1329.3 646.9" fill="none" stroke="#2e8b2e" stroke-width="1.3" stroke-linejoin="round" stroke-linecap="round"/>
<path d="M0.0 683.7 C1.8 683.9 11.4 684.9 15.3 685.0 C19.2 685.1 29.0 684.1 33.2 684.2 C37.4 684.3 47.1 685.2 51.0 685.5 C54.9 685.8 63.1 686.9 66.4 687.0 C69.7 687.1 76.1 686.5 79.1 686.2 C82.1 685.9 88.0 685.5 91.9 684.2 C95.8 682.9 107.5 677.4 112.3 675.3 C117.1 673.2 127.9 668.7 132.7 666.3 C137.5 663.9 148.3 657.4 153.1 654.9 C157.9 652.4 168.8 646.7 173.6 644.6 C178.4 642.5 189.2 638.3 194.0 636.5 C198.8 634.7 209.6 631.2 214.4 629.3 C219.2 627.4 230.0 622.6 234.8 620.4 C239.6 618.2 251.3 612.0 255.2 610.2 C259.1 608.4 264.1 606.3 268.0 605.1 C271.9 603.9 283.6 601.3 288.4 600.0 C293.2 598.7 304.0 595.1 308.8 594.1 C313.6 593.1 324.7 591.2 329.2 591.0 C333.7 590.8 342.8 592.4 347.1 592.8 C351.4 593.2 361.7 593.6 366.0 594.3 C370.3 595.0 379.4 597.7 383.9 598.7 C388.4 599.8 399.5 602.2 404.3 603.3 C409.1 604.4 419.3 607.4 424.7 608.4 C430.1 609.4 444.5 611.5 450.2 612.0 C455.9 612.5 468.4 612.4 473.2 612.7 C478.0 613.0 486.9 613.6 491.1 614.5 C495.3 615.4 504.4 618.6 508.9 620.4 C513.4 622.2 524.5 627.5 529.3 629.8 C534.1 632.1 545.0 638.0 549.8 640.0 C554.6 642.0 565.7 645.3 570.2 647.2 C574.7 649.1 583.5 654.2 588.0 656.1 C592.5 658.0 603.7 662.0 608.5 663.3 C613.3 664.6 624.4 666.9 628.9 667.6 C633.4 668.3 642.3 668.8 646.8 668.9 C651.3 669.0 662.4 668.6 667.2 668.4 C672.0 668.2 682.8 667.7 687.6 667.1 C692.4 666.5 702.8 664.0 708.0 663.0 C713.2 662.0 726.8 659.6 732.0 658.7 C737.2 657.8 747.5 656.1 752.4 655.4 C757.3 654.7 769.3 652.1 774.1 652.3 C778.9 652.5 788.7 655.9 793.3 656.9 C797.9 657.9 808.9 660.4 813.7 661.2 C818.5 662.0 829.6 663.3 834.1 663.8 C838.6 664.3 847.8 665.5 852.0 665.8 C856.2 666.1 865.3 666.3 869.8 666.3 C874.3 666.3 885.4 666.0 890.2 665.8 C895.0 665.6 906.2 664.8 910.7 664.3 C915.2 663.8 924.3 662.4 928.5 661.2 C932.7 660.0 942.5 655.5 946.4 653.6 C950.3 651.7 958.1 646.5 961.7 644.6 C965.3 642.7 973.4 638.5 977.0 637.0 C980.6 635.5 988.7 632.9 992.3 631.9 C995.9 630.9 1003.7 629.4 1007.6 628.8 C1011.5 628.2 1021.0 627.1 1025.5 626.8 C1030.0 626.5 1041.1 626.3 1045.9 626.3 C1050.7 626.3 1061.9 626.3 1066.4 626.8 C1070.9 627.3 1080.5 629.8 1084.2 630.6 C1087.9 631.4 1094.3 632.7 1098.0 633.9 C1101.7 635.1 1111.7 639.2 1115.9 640.8 C1120.1 642.4 1129.2 645.4 1133.7 647.2 C1138.2 649.0 1149.4 654.3 1154.2 656.1 C1159.0 657.9 1170.1 661.3 1174.6 662.5 C1179.1 663.7 1188.1 665.9 1192.4 666.3 C1196.7 666.7 1207.9 666.6 1211.4 666.3 C1214.9 666.0 1219.7 664.4 1222.8 663.6 C1225.9 662.8 1234.6 660.8 1238.0 659.8 C1241.4 658.8 1248.6 656.5 1251.6 655.3 C1254.6 654.1 1260.9 651.1 1263.7 649.9 C1266.5 648.7 1272.9 646.4 1275.9 645.4 C1278.9 644.4 1286.7 642.2 1289.5 641.6 C1292.3 641.0 1297.9 640.4 1300.2 640.1 C1302.5 639.8 1307.3 639.4 1309.6 639.3 C1311.9 639.2 1317.7 639.1 1319.9 639.3 C1322.1 639.5 1327.7 640.6 1328.7 640.8" fill="none" stroke="#e3121d" stroke-width="1.3" stroke-linejoin="round" stroke-linecap="round"/>
<ellipse cx="1327.2" cy="642.9" rx="35" ry="39" fill="none" stroke="#e8131c" stroke-width="3"/>
<rect x="0" y="557.2" width="1464" height="1.7" fill="#555"/>
<rect x="1406.5" y="0" width="1.9" height="691.5" fill="#000"/>
<rect x="1406" y="213.5" width="3" height="3.8" fill="#fff"/>
<rect x="0" y="690.2" width="1408.6" height="1.6" fill="#000"/>
<g font-size="14" fill="#222">
<text x="1420.5" y="18.8">26.50</text>
<text x="1420.5" y="59.1">26.00</text>
<text x="1420.5" y="99.5">25.50</text>
<text x="1420.5" y="139.9">25.00</text>
<text x="1420.5" y="180.3">24.50</text>
<text x="1420.5" y="220.8">24.00</text>
<text x="1420.5" y="261.1">23.50</text>
<text x="1420.5" y="301.6">23.00</text>
<text x="1420.5" y="341.9">22.50</text>
<text x="1420.5" y="382.3">22.00</text>
<text x="1420.5" y="422.8">21.50</text>
<text x="1420.5" y="463.1">21.00</text>
<text x="1420.5" y="503.5">20.50</text>
<text x="1420.5" y="543.9">20.00</text>
</g>
<clipPath id="c15"><rect x="1410" y="559" width="54" height="20"/></clipPath>
<g font-size="14" fill="#222">
<text x="1421" y="563" clip-path="url(#c15)">1.50</text>
<text x="1421" y="585">1.00</text>
<text x="1421" y="619">0.50</text>
</g>
<rect x="1416" y="206.5" width="41" height="18.6" fill="#fbf83e"/>
<text x="1420.3" y="220.6" font-size="13" fill="#000">24.00</text>
<rect x="1416" y="249.1" width="41" height="17.9" fill="#e23cfb"/>
<text x="1420.3" y="262.8" font-size="13" fill="#fff">23.47</text>
<rect x="1419.9" y="249.3" width="30.8" height="4.6" fill="#fff" fill-opacity="0.55"/>
<rect x="1419.8" y="231.8" width="25.4" height="1.9" fill="#000"/>
<rect x="1419.8" y="251.6" width="25.4" height="1.9" fill="#000"/>
<polygon points="1432.6,237 1437.6,241.9 1427.6,241.9" fill="#000"/>
<polygon points="1427.6,243.3 1437.6,243.3 1432.6,248.3" fill="#000"/>
<rect x="1416" y="278.2" width="39.8" height="17.7" fill="#a01820"/>
<text x="1420.3" y="291.8" font-size="13" fill="#fff">23.11</text>
<rect x="1415.8" y="632.4" width="33.2" height="18.6" fill="#e6202a"/>
<text x="1420" y="646.4" font-size="13" fill="#fff">0.08</text>
<rect x="1415.8" y="651" width="33.2" height="18.4" fill="#4a8f3c"/>
<text x="1420" y="664.9" font-size="13" fill="#fff">0.01</text>
<rect x="1415.8" y="669.4" width="37.7" height="18.1" fill="#e6202a"/>
<text x="1418.6" y="683.2" font-size="13" fill="#fff">-0.07</text>
<g font-size="14" fill="#222" text-anchor="middle">
<text x="27" y="704.8">27th</text><text x="27" y="717.6">Feb 2023</text>
<text x="210" y="704.8">29th</text><text x="210" y="717.6">Mar 2023</text>
<text x="424.2" y="704.8">30th</text><text x="424.2" y="717.6">Apr 2023</text>
<text x="639.6" y="704.8">30th</text><text x="639.6" y="717.6">May 2023</text>
<text x="852.5" y="704.8">29th</text><text x="852.5" y="717.6">Jun 2023</text>
<text x="1066.4" y="704.8">31st</text><text x="1066.4" y="717.6">Jul 2023</text>
<text x="1280.5" y="704.8">30th</text><text x="1280.5" y="717.6">Aug 2023</text>
<text x="1377" y="704.8">14th</text><text x="1377" y="717.6">Sep 2023</text>
</g>
<text x="5" y="582.2" font-size="14.4" fill="#222">MACD (12, 26, 9)</text>
<text x="194.5" y="582.2" font-size="14.4" fill="#222">0.01/-0.07/0.08</text>
<g fill="none" stroke="#3a3a3a" stroke-width="0.8"><path d="M125 578.8 Q134.5 567.2 144 578.8 Q134.5 590.4 125 578.8 Z"/><circle cx="134.5" cy="578.8" r="3.2"/></g><circle cx="134.5" cy="578.8" r="1.3" fill="#3a3a3a"/>
<g stroke="#000" stroke-width="4.6" stroke-linecap="butt"><line x1="148.58" y1="571.33" x2="162.72" y2="585.47"/><line x1="162.72" y1="571.33" x2="148.58" y2="585.47"/></g>
<path d="M182.96 576.67 L185.15 576.78 L185.15 580.02 L182.96 580.13 L182.36 581.60 L183.82 583.22 L181.52 585.52 L179.90 584.06 L178.43 584.66 L178.32 586.85 L175.08 586.85 L174.97 584.66 L173.50 584.06 L171.88 585.52 L169.58 583.22 L171.04 581.60 L170.44 580.13 L168.25 580.02 L168.25 576.78 L170.44 576.67 L171.04 575.20 L169.58 573.58 L171.88 571.28 L173.50 572.74 L174.97 572.14 L175.08 569.95 L178.32 569.95 L178.43 572.14 L179.90 572.74 L181.52 571.28 L183.82 573.58 L182.36 575.20 Z M179.7 578.4 A3 3 0 1 0 173.7 578.4 A3 3 0 1 0 179.7 578.4 Z" fill="#000" fill-rule="evenodd" stroke="#000" stroke-width="0.5" stroke-linejoin="round"/>
<rect x="0" y="721.7" width="1464" height="3.3" fill="#e6e6e6"/>
<rect x="5" y="1" width="2" height="1" fill="#333"/>
</svg></body></html>
